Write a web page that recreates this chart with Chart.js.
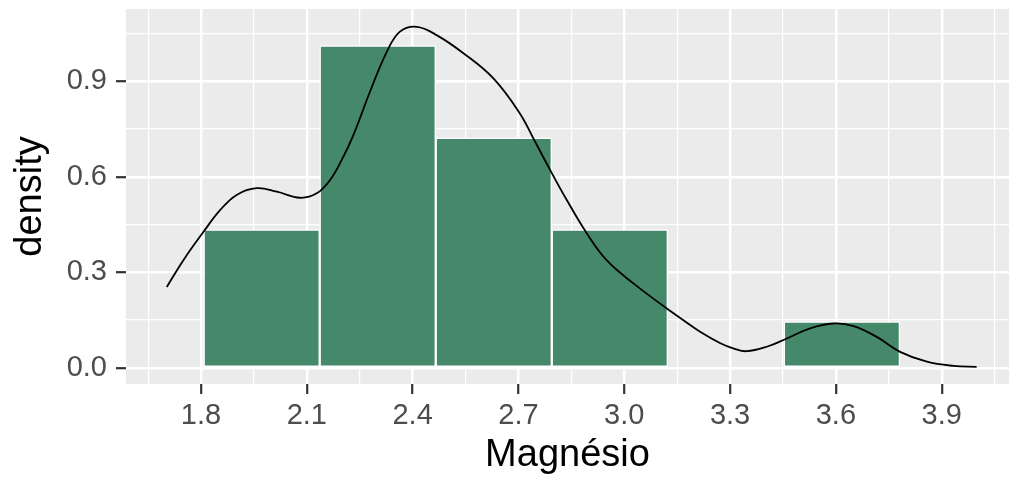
<!DOCTYPE html>
<html>
<head>
<meta charset="utf-8">
<script src="https://cdn.jsdelivr.net/npm/chart.js@4/dist/chart.umd.min.js"></script>
<style>
  html, body { margin: 0; padding: 0; background: #fff; }
  #wrap { width: 1009px; height: 480px; position: relative; }
</style>
</head>
<body>
<div id="wrap"><canvas id="grafico"></canvas></div>
<script>
// histograma (densidade por classe)
const binCenters = [1.972, 2.301, 2.630, 2.959, 3.288, 3.617];
const binDensity = [0.434, 1.012, 0.722, 0.434, 0, 0.145];

// curva de densidade
const densX = [1.703, 1.750, 1.807, 1.854, 1.901, 1.958, 2.015, 2.081, 2.128, 2.166,
               2.199, 2.232, 2.279, 2.327, 2.364, 2.412, 2.468, 2.544, 2.629, 2.704,
               2.742, 2.790, 2.837, 2.894, 2.950, 3.026, 3.111, 3.168, 3.215, 3.271,
               3.309, 3.347, 3.404, 3.461, 3.527, 3.593, 3.650, 3.716, 3.782, 3.858,
               3.933, 3.999];
const densY = [0.254, 0.338, 0.427, 0.495, 0.543, 0.564, 0.553, 0.534, 0.548, 0.590,
               0.653, 0.731, 0.867, 0.993, 1.056, 1.071, 1.045, 0.988, 0.909, 0.799,
               0.721, 0.621, 0.527, 0.422, 0.338, 0.265, 0.194, 0.149, 0.113, 0.078,
               0.061, 0.052, 0.066, 0.092, 0.124, 0.139, 0.131, 0.097, 0.050, 0.019,
               0.006, 0.003];

const xTicks = [1.65, 1.8, 1.95, 2.1, 2.25, 2.4, 2.55, 2.7, 2.85, 3.0, 3.15, 3.3, 3.45, 3.6, 3.75, 3.9, 4.05];
const yTicks = [0, 0.15, 0.3, 0.45, 0.6, 0.75, 0.9, 1.05];

const xMin = 1.5873, xMax = 4.0908;
const yMin = -0.051, yMax = 1.127;

const fonte = '"Liberation Sans", Arial, Helvetica, sans-serif';

function ehMaior(v) {
  return Math.abs(Math.round(v / 0.3) * 0.3 - v) < 1e-6;
}

const fundoPainel = {
  id: 'fundoPainel',
  beforeDraw(chart) {
    const a = chart.chartArea;
    const ctx = chart.ctx;
    ctx.save();
    ctx.fillStyle = '#EBEBEB';
    ctx.fillRect(a.left, a.top, a.right - a.left, a.bottom - a.top);
    ctx.restore();
  }
};

const grade = {
  offset: false,
  color: '#FFFFFF',
  lineWidth: c => (c.tick && ehMaior(c.tick.value)) ? 2.4 : 1.2,
  tickColor: c => (c.tick && ehMaior(c.tick.value)) ? '#333333' : 'rgba(0,0,0,0)',
  tickWidth: 2.2,
  tickLength: 10,
  drawTicks: true
};

new Chart(document.getElementById('grafico'), {
  type: 'bar',
  data: {
    datasets: [
      {
        type: 'line',
        data: densX.map((x, i) => ({ x: x, y: densY[i] })),
        borderColor: '#000000',
        borderWidth: 1.8,
        pointRadius: 0,
        tension: 0.4,
        fill: false,
        order: 0
      },
      {
        type: 'bar',
        data: binCenters.map((x, i) => ({ x: x, y: binDensity[i] })),
        backgroundColor: '#45886A',
        borderColor: '#FFFFFF',
        borderWidth: 1.5,
        borderSkipped: false,
        barThickness: 'flex',
        barPercentage: 1,
        categoryPercentage: 1,
        order: 1
      }
    ]
  },
  options: {
    responsive: true,
    maintainAspectRatio: false,
    animation: false,
    layout: { padding: { top: 9, right: 0, left: 0, bottom: 0 } },
    plugins: {
      legend: { display: false },
      tooltip: { enabled: false }
    },
    scales: {
      x: {
        type: 'linear',
        offset: false,
        min: xMin,
        max: xMax,
        afterBuildTicks: s => { s.ticks = xTicks.map(v => ({ value: v })); },
        afterFit: s => { s.height = 96; s.paddingLeft = 0; s.paddingRight = 0; },
        grid: grade,
        border: { display: false },
        ticks: {
          autoSkip: false,
          maxRotation: 0,
          padding: 5,
          color: '#4D4D4D',
          font: { family: fonte, size: 29 },
          callback: v => ehMaior(v) ? v.toFixed(1) : ''
        },
        title: {
          display: true,
          text: 'Magnésio',
          color: '#000000',
          font: { family: fonte, size: 38 },
          padding: { top: 0, bottom: 2 }
        }
      },
      y: {
        type: 'linear',
        min: yMin,
        max: yMax,
        afterBuildTicks: s => { s.ticks = yTicks.map(v => ({ value: v })); },
        afterFit: s => { s.width = 126; s.paddingTop = 0; s.paddingBottom = 0; },
        grid: grade,
        border: { display: false },
        ticks: {
          padding: 9,
          color: '#4D4D4D',
          font: { family: fonte, size: 29 },
          callback: v => ehMaior(v) ? v.toFixed(1) : ''
        },
        title: {
          display: true,
          text: 'density',
          color: '#000000',
          font: { family: fonte, size: 38 },
          padding: { top: 8, bottom: 0 }
        }
      }
    }
  },
  plugins: [fundoPainel]
});
</script>
</body>
</html>
